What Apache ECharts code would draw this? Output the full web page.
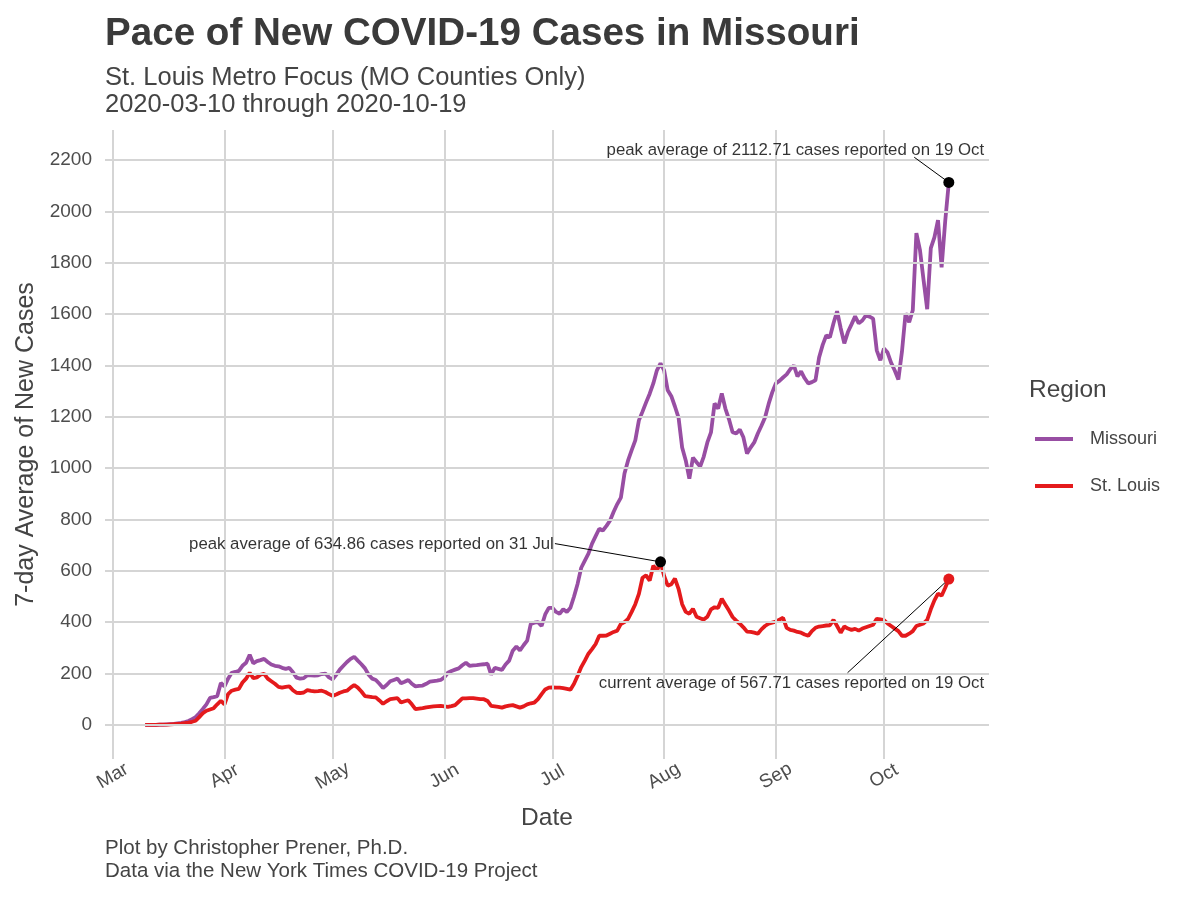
<!DOCTYPE html>
<html>
<head>
<meta charset="utf-8">
<script src="https://cdn.jsdelivr.net/npm/echarts@6/dist/echarts.min.js"></script>
<style>
html,body{margin:0;padding:0;background:#fff;}
#chart{width:1200px;height:900px;}
</style>
</head>
<body>
<div id="chart"></div>
<script>
// ---- data (7-day average of new cases, daily from 2020-03-10 to 2020-10-19) ----
var startDate = '2020-03-10';
var startOffset = 9; // days after Mar 1
var missouri = [0,0,0,0,1,1,2,3,4,6,
 8,11,15,22,30,45,62,80,105,108,
 112,163,150,180,203,206,210,230,242,273,
 240,248,252,257,245,235,230,228,222,218,
 222,205,184,180,182,193,193,192,193,198,
 200,185,177,195,215,230,245,257,265,250,
 236,220,195,180,175,160,144,155,170,175,
 180,162,168,175,160,150,152,153,160,168,
 170,172,175,185,203,210,215,220,232,242,
 230,232,233,235,236,238,196,222,218,214,
 235,250,289,305,290,310,328,393,398,400,
 385,430,456,456,440,433,450,440,456,500,
 550,612,640,667,706,735,764,757,775,796,
 830,860,885,979,1030,1070,1108,1186,1220,1256,
 1290,1330,1381,1408,1381,1303,1280,1240,1197,1080,
 1030,959,1041,1023,1006,1045,1100,1139,1252,1232,
 1291,1232,1190,1140,1135,1150,1120,1057,1080,1100,
 1135,1165,1197,1250,1295,1330,1340,1353,1365,1385,
 1400,1357,1377,1350,1330,1335,1342,1431,1480,1517,
 1510,1564,1611,1545,1486,1530,1560,1591,1564,1575,
 1595,1590,1582,1459,1420,1466,1450,1410,1380,1345,
 1454,1603,1568,1615,1915,1849,1732,1619,1857,1899,
 1966,1782,1962,2112.71];
var stLouis = [0,0,0,0,1,1,1,2,3,4,
 5,7,9,12,16,30,45,55,60,65,
 80,94,80,120,133,137,140,165,180,203,
 182,185,195,199,180,170,160,148,145,148,
 150,135,125,124,126,135,132,130,131,133,
 128,120,113,118,125,130,133,145,155,145,
 130,112,110,108,107,95,82,92,100,102,
 104,87,92,96,80,61,63,65,68,70,
 72,73,74,72,70,73,77,90,103,103,
 104,104,102,100,100,93,74,72,70,67,
 72,75,77,72,67,72,80,84,87,100,
 120,138,145,146,145,145,143,140,137,160,
 191,225,250,277,295,315,347,347,348,355,
 362,367,393,400,413,440,470,510,573,582,
 562,620,600,634.86,580,542,548,570,530,470,
 440,433,452,421,415,410,421,450,458,456,
 491,468,445,420,406,394,380,363,362,359,
 355,372,385,394,398,402,410,417,378,370,
 367,362,359,352,347,365,378,383,385,387,
 388,409,385,359,383,375,370,374,367,375,
 380,385,390,413,411,408,395,385,375,365,
 347,347,355,365,385,390,395,409,450,485,
 511,503,534,567.71];
var monthLabels = ['Mar','Apr','May','Jun','Jul','Aug','Sep','Oct'];
var monthDays = [0,31,61,92,122,153,184,214]; // days after Mar 1
var yTicks = [0,200,400,600,800,1000,1200,1400,1600,1800,2000,2200];
var peakMO = {day: 232, value: 2112.71, text: 'peak average of 2112.71 cases reported on 19 Oct'};
var peakSTL = {day: 152, value: 634.86, text: 'peak average of 634.86 cases reported on 31 Jul'};
var currentSTL = {day: 232, value: 567.71, text: 'current average of 567.71 cases reported on 19 Oct'};
// label anchor (right end) positions in data units
var peakMOLabel = [241.8, 2239];
var peakSTLLabel = [122.4, 702];
var currentSTLLabel = [241.8, 163];
var peakMOLeader = [222.4, 2211];
var peakSTLLeader = [122.7, 706];
var currentSTLLeader = [203.9, 203];

var FONT = '"Liberation Sans", Arial, Helvetica, sans-serif';
var PURPLE = '#984ea3', RED = '#e41a1c';

function toPairs(arr){ return arr.map(function(v,i){ return [startOffset + i, v]; }); }

var chart = echarts.init(document.getElementById('chart'), null, {renderer:'canvas'});
var gridLines = yTicks.map(function(v){ return {yAxis: v}; })
  .concat(monthDays.map(function(d){ return {xAxis: d}; }));

var option = {
  animation: false,
  backgroundColor: '#ffffff',
  textStyle: {fontFamily: FONT},
  title: [
    {text: 'Pace of New COVID-19 Cases in Missouri', left: 100, top: 10,
     textStyle: {fontFamily: FONT, fontSize: 38.6, fontWeight: 'bold', color: '#3a3a3a'}},
    {text: 'St. Louis Metro Focus (MO Counties Only)\n2020-03-10 through 2020-10-19', left: 100, top: 59,
     textStyle: {fontFamily: FONT, fontSize: 25.5, fontWeight: 'normal', color: '#444444', lineHeight: 27}},
    {text: 'Plot by Christopher Prener, Ph.D.\nData via the New York Times COVID-19 Project', left: 100, top: 832,
     textStyle: {fontFamily: FONT, fontSize: 20.5, fontWeight: 'normal', color: '#444444', lineHeight: 23}},
    {text: 'Region', left: 1024, top: 373,
     textStyle: {fontFamily: FONT, fontSize: 24.5, fontWeight: 'normal', color: '#444444'}}
  ],
  legend: {
    data: ['Missouri', 'St. Louis'],
    orient: 'vertical', left: 1030, top: 425,
    icon: 'rect', itemWidth: 38, itemHeight: 4, itemGap: 29,
    textStyle: {fontFamily: FONT, fontSize: 18, color: '#444444', padding: [0,0,0,12]}
  },
  grid: {left: 105, right: 211, top: 130, bottom: 141, containLabel: false},
  xAxis: {
    type: 'value', min: -2.15, max: 243.15,
    name: 'Date', nameLocation: 'middle', nameGap: 47,
    nameTextStyle: {fontFamily: FONT, fontSize: 24.5, color: '#444444'},
    axisLine: {show: false}, axisTick: {show: false}, splitLine: {show: false},
    axisLabel: {
      customValues: monthDays, rotate: 30, margin: 17, fontSize: 19, color: '#4d4d4d', fontFamily: FONT,
      align: 'center', verticalAlign: 'middle',
      formatter: function(v){ var k = monthDays.indexOf(Math.round(v)); return k >= 0 ? monthLabels[k] : ''; }
    }
  },
  yAxis: {
    type: 'value', min: -133, max: 2317,
    name: '7-day Average of New Cases', nameLocation: 'middle', nameGap: 59,
    nameTextStyle: {fontFamily: FONT, fontSize: 25, color: '#444444'},
    axisLine: {show: false}, axisTick: {show: false}, splitLine: {show: false},
    axisLabel: {customValues: yTicks, margin: 13, fontSize: 19, color: '#4d4d4d', fontFamily: FONT,
      formatter: function(v){ return String(Math.round(v)); }}
  },
  series: [
    {name: 'grid', type: 'line', data: [], silent: true, z: 0,
     markLine: {silent: true, symbol: 'none', animation: false, label: {show: false},
       lineStyle: {color: '#d5d5d5', width: 2, type: 'solid'}, emphasis: {disabled: true},
       data: gridLines}},
    {name: 'Missouri', type: 'line', data: toPairs(missouri), showSymbol: false, symbol: 'none',
     lineStyle: {color: PURPLE, width: 3.8}, itemStyle: {color: PURPLE}, z: 3},
    {name: 'St. Louis', type: 'line', data: toPairs(stLouis), showSymbol: false, symbol: 'none',
     lineStyle: {color: RED, width: 3.8}, itemStyle: {color: RED}, z: 3},
    {name: 'leaders', type: 'line', data: [], silent: true, z: 4,
     markLine: {silent: true, symbol: 'none', animation: false, label: {show: false},
       lineStyle: {color: '#000000', width: 1, type: 'solid'},
       data: [
         [{coord: peakMOLeader}, {coord: [peakMO.day, peakMO.value]}],
         [{coord: peakSTLLeader}, {coord: [peakSTL.day, peakSTL.value]}],
         [{coord: currentSTLLeader}, {coord: [currentSTL.day, currentSTL.value]}]
       ]}},
    {name: 'peaks', type: 'scatter', symbolSize: 11, z: 5, silent: true,
     itemStyle: {color: '#000000', opacity: 1},
     data: [[peakSTL.day, peakSTL.value], [peakMO.day, peakMO.value]]},
    {name: 'current', type: 'scatter', symbolSize: 11, z: 5, silent: true,
     itemStyle: {color: RED, opacity: 1},
     data: [[currentSTL.day, currentSTL.value]]},
    {name: 'labels', type: 'scatter', symbolSize: 0, z: 6, silent: true,
     label: {show: true, position: 'left', distance: 0, fontFamily: FONT, fontSize: 16.8, color: '#000000',
       formatter: function(p){ return p.data[2]; }},
     data: [peakMOLabel.concat([peakMO.text]), peakSTLLabel.concat([peakSTL.text]), currentSTLLabel.concat([currentSTL.text])]}
  ]
};
chart.setOption(option);
</script>
</body>
</html>
